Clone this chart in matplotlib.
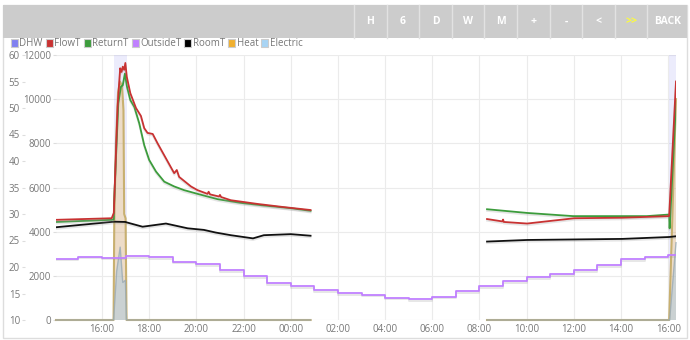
import numpy as np
import matplotlib.pyplot as plt
import matplotlib.patheffects as pe
from matplotlib.patches import Rectangle
from matplotlib.lines import Line2D
from matplotlib.ticker import MultipleLocator, FuncFormatter

plt.rcParams['font.family'] = ['Open Sans', 'DejaVu Sans']

nan = np.nan

# time axis: clock hours counted from midnight of day 1 (24+ = next day)
x_start, x_end = 14.05, 40.33

# DHW periods (start, end)
dhw_on = [16.50, 40.04]
dhw_off = [17.05, 40.33]

# FlowT (degC)
flow_t = [14.05, 16.41, 16.50, 16.66, 16.77, 16.83, 16.88, 16.94, 16.99, 17.05, 17.20, 17.44,
          17.65, 17.79, 17.93, 18.15, 18.36, 18.71, 19.06, 19.17, 19.27, 19.77, 20.05, 20.47,
          20.52, 20.58, 20.96, 21.0, 21.05, 21.46, 22.59, 23.71, 24.84,
          28.0,
          32.32, 32.97, 33.00, 33.03, 34.02, 36.02, 38.05, 40.04, 40.33]
flow_v = [28.9, 29.2, 30.2, 50.2, 57.5, 56.8, 57.8, 57.2, 58.5, 55.9, 52.8, 50.0,
          48.5, 46.2, 45.3, 45.1, 43.3, 40.5, 37.7, 38.3, 37.0, 35.2, 34.5, 33.8,
          34.2, 33.7, 33.3, 33.6, 33.2, 32.6, 31.9, 31.3, 30.75,
          nan,
          29.05, 28.6, 28.95, 28.5, 28.2, 29.2, 29.3, 29.6, 55.0]

# ReturnT (degC)
return_t = [14.05, 16.41, 16.50, 16.51, 16.69, 16.80, 16.88, 16.97, 17.06, 17.20, 17.37, 17.58,
            17.79, 18.00, 18.29, 18.64, 19.06, 19.48, 20.05, 20.90, 21.88, 22.87, 24.00, 24.84,
            28.0,
            32.32, 34.02, 35.97, 39.09, 40.04, 40.06, 40.33]
return_v = [28.5, 28.9, 29.0, 32.0, 50.9, 54.0, 54.3, 56.5, 54.0, 51.5, 50.2, 47.1,
            43.0, 40.2, 38.0, 36.1, 35.2, 34.5, 33.8, 32.8, 32.1, 31.6, 31.1, 30.6,
            nan,
            30.9, 30.2, 29.6, 29.6, 29.9, 27.3, 51.2]

# RoomT (degC)
room_t = [14.05, 16.50, 16.99, 17.06, 17.72, 18.71, 19.63, 20.32, 20.82, 21.46, 22.40, 22.86,
          24.00, 24.84,
          28.0,
          32.32, 34.02, 36.02, 38.05, 40.04, 40.33]
room_v = [27.5, 28.55, 28.5, 28.4, 27.6, 28.2, 27.3, 27.0, 26.5, 26.0, 25.4, 26.0,
          26.2, 25.9,
          nan,
          24.8, 25.1, 25.2, 25.3, 25.66, 25.8]

# OutsideT (degC), hourly values
outside_t = [14.05, 15, 16, 17, 18, 19, 20, 21, 22, 23, 24, 25, 26, 27, 28, 29, 30, 31, 32,
             33, 34, 35, 36, 37, 38, 39, 40, 40.33]
outside_v = [21.6, 21.94, 21.75, 22.08, 21.89, 21.0, 20.57, 19.43, 18.3, 16.92, 16.36, 15.66,
             15.04, 14.77, 14.2, 13.9, 14.4, 15.47, 16.4, 17.36, 18.06, 18.68, 19.43, 20.38,
             21.45, 21.94, 22.26, 22.26]

# Heat output (W)
heat_t = [14.05, 16.49, 16.52, 16.59, 16.68, 16.76, 16.85, 16.91, 16.94, 17.00, 17.04, 24.84,
          28.0,
          32.32, 40.04, 40.33]
heat_v = [0, 0, 4500, 8000, 10300, 10800, 10600, 9500, 4800, 4600, 0, 0,
          nan,
          0, 0, 10000]

# Electric input (W)
elec_t = [14.05, 16.49, 16.55, 16.62, 16.77, 16.82, 16.88, 16.99, 17.04, 24.84,
          28.0,
          32.32, 40.06, 40.33]
elec_v = [0, 0, 1000, 2200, 3300, 2600, 1700, 1800, 0, 0,
          nan,
          0, 0, 3500]

legend_names = ['DHW', 'FlowT', 'ReturnT', 'OutsideT', 'RoomT', 'Heat', 'Electric']
legend_colors = ['#8080f0', '#c83232', '#3c9c3c', '#c080ff', '#000000', '#f0b030', '#a8d4f4']
buttons = ['H', '6', 'D', 'W', 'M', '+', '-', '<', '>>', 'BACK']

W, H = 690, 340
PT = 72 / 100  # points per pixel
fig = plt.figure(figsize=(W / 100, H / 100), dpi=100)
fig.patch.set_facecolor('white')


def fx(px):
    return px / W


def fy(py):
    return 1 - py / H


# outer panel border
fig.patches.append(Rectangle((fx(3), fy(338)), fx(684), 333 / H, transform=fig.transFigure,
                             facecolor='none', edgecolor='#dddddd', lw=1, zorder=0))
# top button bar
fig.patches.append(Rectangle((fx(3), fy(38)), fx(684), 33 / H, transform=fig.transFigure,
                             facecolor='#cccccc', edgecolor='none', zorder=1))
btn_left = 354
btn_w = 32.6
for i, b in enumerate(buttons):
    x0 = btn_left + i * btn_w
    fig.lines.append(Line2D([fx(x0), fx(x0)], [fy(38), fy(5)], transform=fig.transFigure,
                            color='#e2e2e2', lw=1, zorder=2))
    w = btn_w if b != 'BACK' else 687 - x0
    fig.text(fx(x0 + w / 2), fy(21.5), b, ha='center', va='center', fontsize=7.5,
             fontweight='bold', color='#ffff33' if b == '>>' else 'white', zorder=3)

# main axes (power scale) and twin (temperature scale)
ax = fig.add_axes([fx(56), fy(320), fx(620), 265 / H])
ax.set_xlim(x_start, x_end)
ax.set_ylim(0, 12000)

for on, off in zip(dhw_on, dhw_off):
    ax.axvspan(on, off, color='#8080f0', alpha=0.15, lw=0, zorder=1)

ax.fill_between(heat_t, heat_v, color='#f0b030', alpha=0.25, lw=0, zorder=2)
ax.plot(heat_t, heat_v, color='#c8b070', lw=1.5, zorder=3, clip_on=False)
ax.fill_between(elec_t, elec_v, color='#a8c8dc', alpha=0.5, lw=0, zorder=4)
ax.plot(elec_t, elec_v, color='#9aaab4', lw=1.0, alpha=0.8, zorder=5, clip_on=False)

ax.xaxis.set_major_locator(MultipleLocator(2))
ax.xaxis.set_major_formatter(FuncFormatter(lambda h, p: f"{int(round(h)) % 24:02d}:00"))
ax.yaxis.set_major_locator(MultipleLocator(2000))
ax.grid(True, color='#ebebeb', lw=0.8)
ax.set_axisbelow(True)
ax.tick_params(axis='x', length=0, pad=4 * PT, labelsize=7, labelcolor='#777777')
ax.tick_params(axis='y', length=3 * PT, width=0.8, color='#dddddd', pad=2 * PT, labelsize=7,
               labelcolor='#777777')
for s in ax.spines.values():
    s.set_visible(False)

axt = ax.twinx()
axt.set_ylim(10, 60)
axt.yaxis.tick_left()
axt.spines['left'].set_position(('outward', 31 * PT))
axt.yaxis.set_major_locator(MultipleLocator(5))
axt.tick_params(axis='y', length=3 * PT, width=0.8, color='#dddddd', pad=2 * PT, labelsize=7,
                labelcolor='#777777')
for s in axt.spines.values():
    s.set_visible(False)

shadow = [pe.SimpleLineShadow(offset=(0, -1.2), shadow_color='#999999', alpha=0.25), pe.Normal()]
axt.plot(outside_t, outside_v, color='#c080ff', lw=1.3, drawstyle='steps-post',
         path_effects=shadow)
axt.plot(room_t, room_v, color='#111111', lw=1.3, path_effects=shadow)
axt.plot(return_t, return_v, color='#3c9c3c', lw=1.3, path_effects=shadow)
axt.plot(flow_t, flow_v, color='#c83232', lw=1.3, path_effects=shadow)

# legend along the top
renderer = fig.canvas.get_renderer()
x = 11
for name, col in zip(legend_names, legend_colors):
    fig.patches.append(Rectangle((fx(x), fy(47)), fx(7), 8 / H, transform=fig.transFigure,
                                 facecolor=col, edgecolor='#cccccc', lw=0.8))
    t = fig.text(fx(x + 8.5), fy(43.5), name, ha='left', va='center', fontsize=7,
                 color='#777777')
    bb = t.get_window_extent(renderer)
    x = bb.x1 + 3

fig.savefig('out.png', dpi=100)
